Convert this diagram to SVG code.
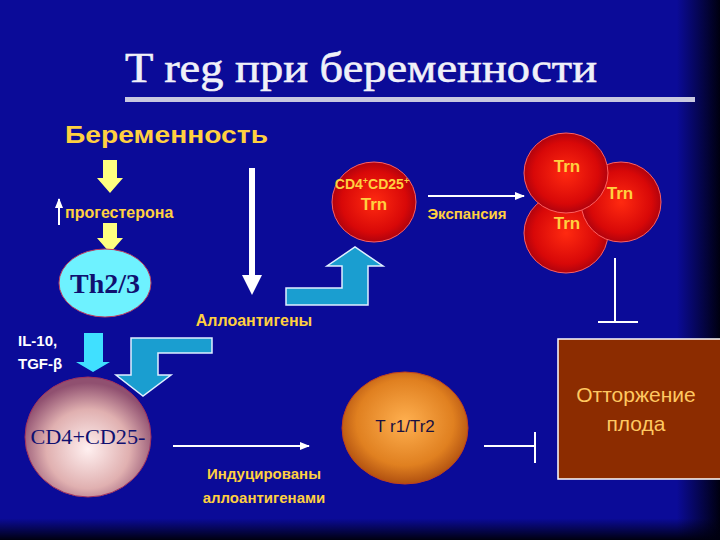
<svg xmlns="http://www.w3.org/2000/svg" width="720" height="540" viewBox="0 0 720 540">
<defs>
<linearGradient id="bgR" x1="0" y1="0" x2="1" y2="0"><stop offset="0.94" stop-color="#0b0b98"/><stop offset="1" stop-color="#000010"/></linearGradient>
<linearGradient id="bgB" x1="0" y1="0" x2="0" y2="1"><stop offset="0.96" stop-color="#000010" stop-opacity="0"/><stop offset="1" stop-color="#000010"/></linearGradient>
<radialGradient id="red" cx="0.5" cy="0.5" r="0.55"><stop offset="0" stop-color="#ff2a10"/><stop offset="0.7" stop-color="#d80808"/><stop offset="1" stop-color="#a00010"/></radialGradient>
<radialGradient id="pink" cx="0.5" cy="0.6" r="0.55"><stop offset="0" stop-color="#fff0f0"/><stop offset="0.6" stop-color="#e0b0b0"/><stop offset="1" stop-color="#905070"/></radialGradient>
<radialGradient id="orange" cx="0.5" cy="0.45" r="0.55"><stop offset="0" stop-color="#ffb050"/><stop offset="0.7" stop-color="#e08020"/><stop offset="1" stop-color="#b05010"/></radialGradient>
<marker id="ah" markerWidth="10" markerHeight="8" refX="9" refY="4" orient="auto" markerUnits="userSpaceOnUse"><path d="M0,0 L10,4 L0,8 Z" fill="#fff"/></marker>
<style>
.y{fill:#ffd040;font-family:"Liberation Sans",Arial,sans-serif;font-weight:bold}
.w{fill:#fff;font-family:"Liberation Sans",Arial,sans-serif;font-weight:bold}
.ln{stroke:#fff;stroke-width:2;fill:none}
.blue{fill:#1a9ed0;stroke:#e0f0ff;stroke-width:1.5}
</style>
</defs>
<rect width="720" height="540" fill="url(#bgR)"/>
<rect width="720" height="540" fill="url(#bgB)"/>
<text x="361" y="82" text-anchor="middle" font-family="Liberation Serif,serif" font-size="42" fill="#f0f0f8" stroke="#f0f0f8" stroke-width="0.6" textLength="472" lengthAdjust="spacingAndGlyphs">T reg при беременности</text>
<rect x="125" y="97" width="570" height="5" fill="#c8c8e0"/>

<g id="connectors">
<path d="M103,160 V178 H97 L110,193 L123,178 H117 V160 Z" fill="#ffff80"/>
<path d="M103,223 V238 H97 L110,253 L123,238 H117 V223 Z" fill="#ffff80"/>
<line x1="59" y1="225" x2="59" y2="199" class="ln" stroke-width="1.5" marker-end="url(#ah)"/>
<path d="M249,168 V275 H242 L252,295 L262,275 H255 V168 Z" fill="#fff"/>
<path d="M286,288 H342 V266 H327 L355,247 L383,266 H368 V305 H286 Z" class="blue"/>
<path d="M212,338 H131 V375 H116 L143,396 L171,375 H158 V353 H212 Z" class="blue"/>
<path d="M84,333 V362 H76 L93,372 L110,362 H103 V333 Z" fill="#40e0ff"/>
<line x1="428" y1="196" x2="524" y2="196" class="ln" marker-end="url(#ah)"/>
<line x1="173" y1="446" x2="309" y2="446" class="ln" marker-end="url(#ah)"/>
<path d="M615,258 V322 M598,322 H638" class="ln" stroke-width="1.5"/>
<path d="M484,446 H535 M535,432 V463" class="ln" stroke-width="1.5"/>
</g>

<g id="pregnancy"><text x="65" y="143" class="y" font-size="23" textLength="203" lengthAdjust="spacingAndGlyphs">Беременность</text></g>
<g id="progesterone"><text x="65" y="218" class="y" font-size="16">прогестерона</text></g>
<g id="th23">
<ellipse cx="105" cy="283" rx="46" ry="34" fill="#6ef2ff" stroke="#c04060" stroke-width="1"/>
<text x="105" y="293" text-anchor="middle" font-family="Liberation Serif,serif" font-weight="bold" font-size="28" fill="#101070">Th2/3</text>
</g>
<g id="alloantigens"><text x="254" y="326" text-anchor="middle" class="y" font-size="16">Аллоантигены</text></g>
<g id="il10"><text x="18" y="346" class="w" font-size="15">IL-10,</text><text x="18" y="369" class="w" font-size="15">TGF-β</text></g>
<g id="cd4neg">
<ellipse cx="88" cy="437" rx="63" ry="60" fill="url(#pink)" stroke="#a03060" stroke-width="1"/>
<text x="88" y="444" text-anchor="middle" font-family="Liberation Serif,serif" font-size="21" fill="#101070" textLength="115" lengthAdjust="spacingAndGlyphs">CD4+CD25-</text>
</g>
<g id="induced"><text x="264" y="479" text-anchor="middle" class="y" font-size="15" font-weight="normal">Индуцированы</text><text x="264" y="503" text-anchor="middle" class="y" font-size="15" font-weight="normal">аллоантигенами</text></g>
<g id="tr1">
<ellipse cx="405" cy="428" rx="63" ry="56" fill="url(#orange)" stroke="#c04020" stroke-width="1"/>
<text x="405" y="432" text-anchor="middle" font-family="Liberation Sans,sans-serif" font-size="17" fill="#1a1040">T r1/Tr2</text>
</g>
<g id="cd4pos">
<ellipse cx="374" cy="202" rx="42" ry="40" fill="url(#red)" stroke="#ff6060" stroke-width="1"/>
<text x="372" y="189" text-anchor="middle" class="y" font-size="14">CD4<tspan font-size="9" dy="-5">+</tspan><tspan dy="5">CD25</tspan><tspan font-size="9" dy="-5">+</tspan></text>
<text x="374" y="210" text-anchor="middle" class="y" font-size="17">Trn</text>
</g>
<g id="expansion"><text x="467" y="219" text-anchor="middle" class="y" font-size="15">Экспансия</text></g>
<g id="trn-cluster">
<ellipse cx="566" cy="233" rx="42" ry="40" fill="url(#red)" stroke="#ff6060" stroke-width="1"/>
<ellipse cx="621" cy="202" rx="40" ry="40" fill="url(#red)" stroke="#ff6060" stroke-width="1"/>
<ellipse cx="566" cy="173" rx="42" ry="40" fill="url(#red)" stroke="#ff6060" stroke-width="1"/>
<text x="567" y="172" text-anchor="middle" class="y" font-size="17">Trn</text>
<text x="620" y="199" text-anchor="middle" class="y" font-size="17">Trn</text>
<text x="567" y="229" text-anchor="middle" class="y" font-size="17">Trn</text>
</g>
<g id="rejection">
<rect x="558" y="339" width="170" height="140" fill="#8c2c00" stroke="#fff" stroke-width="1.5"/>
<text x="636" y="402" text-anchor="middle" font-family="Liberation Sans,sans-serif" font-size="21" fill="#ffc860">Отторжение</text>
<text x="636" y="431" text-anchor="middle" font-family="Liberation Sans,sans-serif" font-size="21" fill="#ffc860">плода</text>
</g>
</svg>
